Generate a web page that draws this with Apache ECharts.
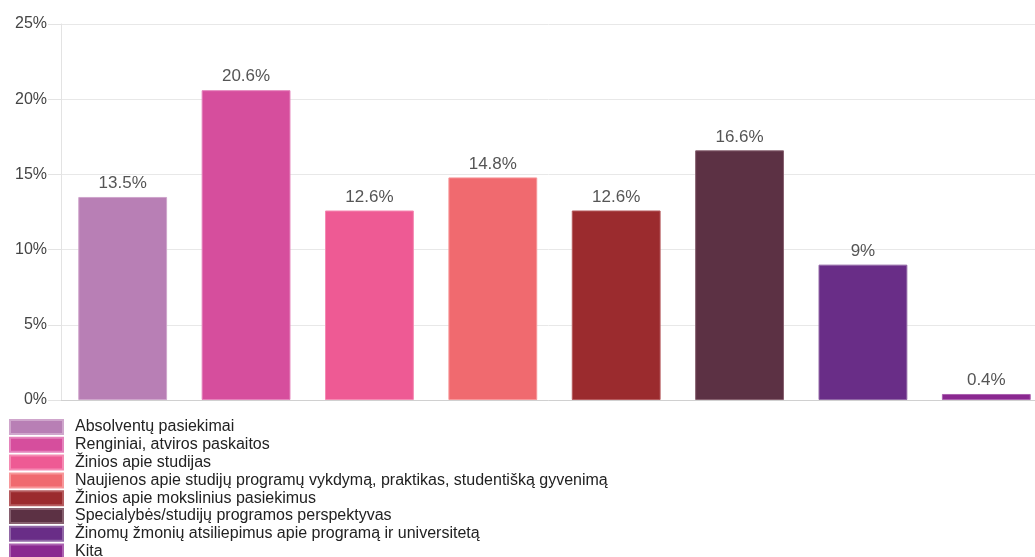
<!DOCTYPE html>
<html>
<head>
<meta charset="utf-8">
<script src="https://cdn.jsdelivr.net/npm/echarts@6/dist/echarts.min.js"></script>
<style>
  html, body { margin: 0; padding: 0; background: #fff; }
  #chart { width: 1035px; height: 557px; }
</style>
</head>
<body>
<div id="chart"></div>
<script>
// Survey answers: share of respondents per information topic
const categories = [
  'Absolventų pasiekimai',
  'Renginiai, atviros paskaitos',
  'Žinios apie studijas',
  'Naujienos apie studijų programų vykdymą, praktikas, studentišką gyvenimą',
  'Žinios apie mokslinius pasiekimus',
  'Specialybės/studijų programos perspektyvas',
  'Žinomų žmonių atsiliepimus apie programą ir universitetą',
  'Kita'
];
const values = [13.5, 20.6, 12.6, 14.8, 12.6, 16.6, 9, 0.4];
const colors = ['#B87FB5', '#D64E9D', '#EE5A94', '#F06A6F', '#9B2B2E', '#5C3144', '#692D87', '#8A2890'];
const borders = ['#CFA6CC', '#E583BC', '#F58AB3', '#F7979A', '#B65B5E', '#86606F', '#9167A6', '#AC62B0'];
const yTicks = { min: 0, max: 25, interval: 5 };

const FONT = '"Liberation Sans", Arial, sans-serif';

// One series per topic so each gets its own legend entry; stacked on one slot
const series = categories.map((name, i) => ({
  name: name,
  type: 'bar',
  stack: 'all',
  barWidth: '72%',
  itemStyle: { color: colors[i], borderColor: borders[i], borderWidth: 1 },
  label: {
    show: true,
    position: 'top',
    distance: 5,
    fontFamily: FONT,
    fontSize: 17,
    color: '#555',
    formatter: p => p.value + '%'
  },
  data: categories.map((c, j) => (j === i ? values[i] : '-'))
}));

const chart = echarts.init(document.getElementById('chart'), null, { renderer: 'canvas' });
chart.setOption({
  animation: false,
  textStyle: { fontFamily: FONT },
  // the plot runs slightly past the right edge of the canvas
  grid: { left: 61, width: 987, top: 24, bottom: 157, containLabel: false, outerBoundsMode: 'none' },
  legend: {
    orient: 'vertical',
    left: 9,
    top: 419,
    height: 200,
    padding: 0,
    itemWidth: 53,
    itemHeight: 14,
    itemGap: 1.8,
    icon: 'rect',
    textStyle: { fontFamily: FONT, fontSize: 16, color: '#222', lineHeight: 16, padding: [0, 0, 0, 7] },
    data: categories
  },
  xAxis: {
    type: 'category',
    data: categories,
    axisLabel: { show: false },
    axisTick: { show: false },
    axisLine: { show: true, lineStyle: { color: '#d0d0d0', width: 1 } }
  },
  yAxis: {
    type: 'value',
    min: yTicks.min,
    max: yTicks.max,
    interval: yTicks.interval,
    axisLine: { show: true, lineStyle: { color: '#e3e3e3' } },
    axisTick: { show: true, length: 13, lineStyle: { color: '#e3e3e3' } },
    splitLine: { show: true, lineStyle: { color: '#e8e8e8' } },
    axisLabel: {
      fontFamily: FONT,
      fontSize: 16,
      color: '#444',
      margin: 14,
      formatter: v => v + '%'
    }
  },
  series: series
});
</script>
</body>
</html>
